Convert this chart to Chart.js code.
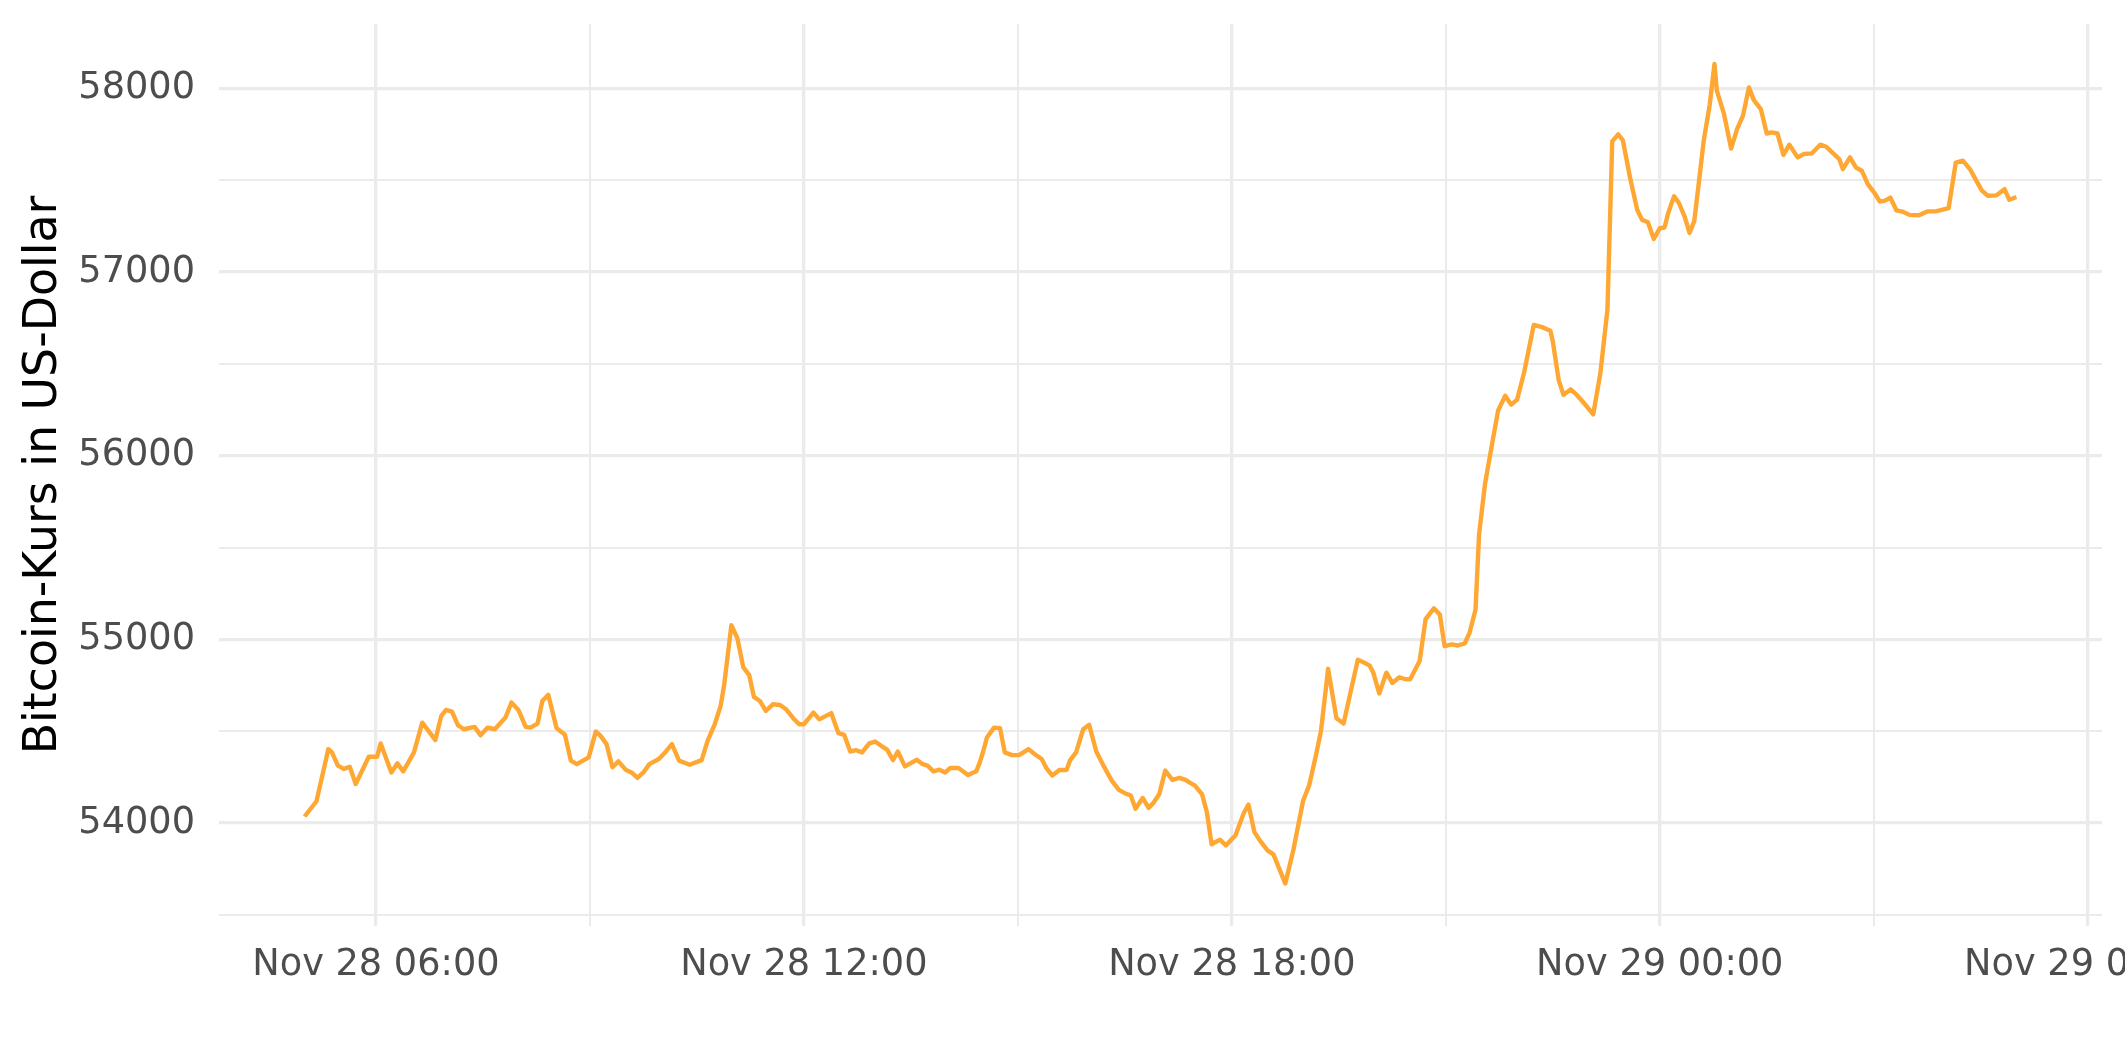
<!DOCTYPE html>
<html>
<head>
<meta charset="utf-8">
<script src="https://cdn.jsdelivr.net/npm/chart.js@4.4.1/dist/chart.umd.min.js"></script>
<style>
  html, body { margin: 0; padding: 0; background: #ffffff; overflow: hidden; }
  #wrap { width: 2125px; height: 1062px; }
</style>
</head>
<body>
<div id="wrap"><canvas id="chart-area" width="2125" height="1062"></canvas></div>
<script>
// minutes after Nov 28 00:00
var times = [
  300, 310, 320, 323, 328, 333, 338, 343, 354, 361, 364, 373, 378, 383, 392, 399,
  410, 415, 419, 424, 429, 434, 443, 448, 454, 460, 469, 474, 480, 486, 490, 496,
  500, 505, 512, 519, 524, 529, 539, 545, 549, 554, 559, 564, 570, 575, 580, 585,
  590, 598, 604, 609, 615, 624, 634, 639, 645, 650, 653, 659, 664, 669, 674, 678,
  683, 688, 694, 700, 705, 711, 716, 720, 728, 733, 743, 749, 754, 759, 764, 769,
  775, 780, 785, 790, 795, 799, 805, 810, 815, 820, 824, 829, 834, 839, 843, 850,
  853, 858, 865, 868, 871, 874, 880, 885, 889, 895, 901, 909, 914, 920, 924, 929,
  935, 941, 944, 949, 955, 960, 966, 972, 979, 985, 990, 995, 999, 1005, 1010, 1014,
  1019, 1024, 1030, 1036, 1041, 1045, 1049, 1055, 1059, 1063, 1070, 1075, 1083, 1090, 1094, 1099,
  1104, 1110, 1115, 1125, 1132, 1140, 1145, 1151, 1155, 1161, 1168, 1174, 1186, 1191, 1196, 1199,
  1204, 1210, 1215, 1221, 1226, 1230, 1238, 1243, 1250, 1255, 1259, 1265, 1270, 1276, 1280, 1285,
  1288, 1293, 1299, 1304, 1310, 1315, 1320, 1326, 1334, 1341, 1348, 1350, 1355, 1359, 1365, 1370,
  1374, 1379, 1384, 1390, 1396, 1400, 1405, 1409, 1415, 1421, 1425, 1430, 1435, 1440, 1444, 1447,
  1452, 1456, 1461, 1465, 1469, 1473, 1477, 1482, 1486, 1488, 1494, 1500, 1505, 1510, 1515, 1519,
  1525, 1530, 1534, 1539, 1544, 1549, 1556, 1561, 1568, 1575, 1580, 1585, 1591, 1594, 1600, 1605,
  1610, 1615, 1621, 1625, 1629, 1634, 1639, 1644, 1650, 1658, 1665, 1672, 1678, 1683, 1689, 1695,
  1701, 1706, 1711, 1716, 1723, 1730, 1734, 1740
];
var prices = [
  54036, 54119, 54403, 54385, 54313, 54295, 54307, 54213, 54361, 54361, 54434, 54276, 54325, 54282, 54385, 54547,
  54452, 54584, 54616, 54607, 54533, 54511, 54524, 54478, 54520, 54511, 54575, 54656, 54614, 54524, 54520, 54542,
  54665, 54698, 54517, 54481, 54340, 54321, 54358, 54499, 54475, 54430, 54304, 54336, 54291, 54276, 54246, 54276,
  54321, 54349, 54390, 54430, 54340, 54318, 54343, 54448, 54538, 54638, 54755, 55077, 55008, 54849, 54806, 54687,
  54665, 54611, 54647, 54643, 54620, 54571, 54538, 54538, 54602, 54565, 54599, 54490, 54480, 54390, 54397, 54385,
  54434, 54444, 54421, 54400, 54343, 54390, 54309, 54327, 54345, 54321, 54313, 54282, 54291, 54276, 54300, 54300,
  54286, 54262, 54282, 54331, 54394, 54466, 54520, 54517, 54385, 54370, 54370, 54403, 54376, 54349, 54300, 54259,
  54289, 54289, 54343, 54385, 54511, 54535, 54390, 54313, 54231, 54181, 54163, 54150, 54078, 54137, 54083, 54110,
  54159, 54286, 54235, 54246, 54235, 54219, 54204, 54156, 54060, 53885, 53910, 53879, 53933, 54054, 54101, 53951,
  53902, 53852, 53830, 53671, 53861, 54123, 54204, 54376, 54502, 54840, 54571, 54542, 54890, 54875, 54857, 54819,
  54706, 54819, 54763, 54794, 54783, 54783, 54882, 55110, 55169, 55135, 54963, 54973, 54967, 54979, 55036, 55162,
  55573, 55847, 56067, 56246, 56326, 56278, 56305, 56457, 56712, 56700, 56680, 56623, 56410, 56332, 56361, 56332,
  56303, 56265, 56225, 56448, 56797, 57711, 57749, 57716, 57513, 57339, 57285, 57271, 57180, 57238, 57242, 57319,
  57412, 57377, 57300, 57213, 57277, 57494, 57716, 57910, 58132, 57987, 57861, 57672, 57778, 57851, 58005, 57937,
  57887, 57754, 57760, 57754, 57638, 57693, 57624, 57642, 57646, 57693, 57682, 57651, 57615, 57560, 57624, 57569,
  57551, 57478, 57427, 57384, 57387, 57405, 57336, 57329, 57311, 57309, 57330, 57330, 57339, 57348, 57595, 57606,
  57559, 57500, 57443, 57415, 57417, 57451, 57393, 57408
];
var xTicks = [360, 540, 720, 900, 1080, 1260, 1440, 1620, 1800];
var xTickLabels = ["Nov 28 06:00", "", "Nov 28 12:00", "", "Nov 28 18:00", "", "Nov 29 00:00", "", "Nov 29 06:00"];
var yTicks = [53500, 54000, 54500, 55000, 55500, 56000, 56500, 57000, 57500, 58000];
var yTickLabels = ["", "54000", "", "55000", "", "56000", "", "57000", "", "58000"];

var points = times.map(function(t, i) { return {x: t, y: prices[i]}; });

var gridColor = '#EBEBEB';
var tickFont = {family: 'DejaVu Sans', size: 36.7};

var config = {
    type: 'line',
    data: {
        datasets: [{
            data: points,
            borderColor: '#FFA733',
            borderWidth: 4.4,
            borderJoinStyle: 'round',
            pointRadius: 0,
            tension: 0,
            fill: false
        }]
    },
    options: {
        responsive: false,
        animation: false,
        devicePixelRatio: 1,
        layout: {padding: {top: 24, right: 23, bottom: 0, left: 0}},
        plugins: {legend: {display: false}, tooltip: {enabled: false}},
        scales: {
            x: {
                type: 'linear',
                min: 228,
                max: 1812,
                border: {display: false},
                grid: {
                    color: gridColor,
                    drawTicks: false,
                    lineWidth: function(ctx) { return ctx.tick && ctx.tick.value % 360 === 0 ? 3.3 : 2; }
                },
                afterBuildTicks: function(scale) {
                    scale.ticks = xTicks.map(function(v) { return {value: v}; });
                },
                afterFit: function(scale) {
                    scale.height = 136;
                    scale.paddingLeft = 0;
                    scale.paddingRight = 0;
                },
                ticks: {
                    autoSkip: false,
                    maxRotation: 0,
                    padding: 17,
                    color: '#4D4D4D',
                    font: tickFont,
                    callback: function(v) { return xTickLabels[xTicks.indexOf(v)] || ''; }
                }
            },
            y: {
                min: 53440,
                max: 58350,
                border: {display: false},
                grid: {
                    color: gridColor,
                    drawTicks: false,
                    lineWidth: function(ctx) { return ctx.tick && ctx.tick.value % 1000 === 0 ? 3.3 : 2; }
                },
                afterBuildTicks: function(scale) {
                    scale.ticks = yTicks.map(function(v) { return {value: v}; });
                },
                afterFit: function(scale) {
                    scale.width = 219;
                    scale.paddingTop = 0;
                    scale.paddingBottom = 0;
                },
                title: {
                    display: true,
                    text: 'Bitcoin-Kurs in US-Dollar',
                    color: '#000000',
                    font: {family: 'DejaVu Sans', size: 45.8},
                    padding: {top: 17, bottom: 0}
                },
                ticks: {
                    autoSkip: false,
                    padding: 24,
                    color: '#4D4D4D',
                    font: tickFont,
                    callback: function(v) { return yTickLabels[yTicks.indexOf(v)] || ''; }
                }
            }
        }
    }
};

window.onload = function() {
    var ctx = document.getElementById("chart-area").getContext("2d");
    window.myChart = new Chart(ctx, config);
};
</script>
</body>
</html>
